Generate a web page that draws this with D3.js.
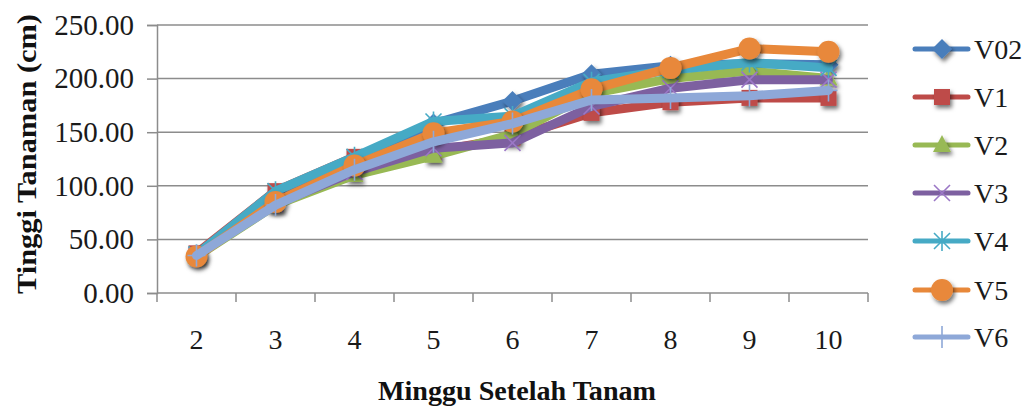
<!DOCTYPE html>
<html>
<head>
<meta charset="utf-8">
<script src="https://cdn.jsdelivr.net/npm/d3@7"></script>
<style>
  html, body { margin: 0; padding: 0; background: #fff; }
  svg { display: block; }
</style>
</head>
<body>
<svg id="chart" width="1024" height="407" font-family="Liberation Serif"></svg>
<script>
// Weeks after planting
const weeks = ["2", "3", "4", "5", "6", "7", "8", "9", "10"];

// Plant height (cm) per treatment
const V02 = [35, 91, 125, 158, 179, 204, 212, 214, 213];
const V1  = [37, 95, 127, 132, 145, 168, 178, 182, 182];
const V2  = [34, 82, 110, 128, 148, 186, 200, 207, 200];
const V3  = [35, 83, 113, 135, 140, 174, 191, 199, 199];
const V4  = [36, 95, 127, 160, 165, 197, 208, 215, 210];
const V5  = [34, 85, 119, 149, 160, 190, 210, 228, 225];
const V6  = [35, 82, 115, 141, 158, 180, 182, 184, 189];

const seriesNames = ["V02", "V1", "V2", "V3", "V4", "V5", "V6"];
const yTicks = [0, 50, 100, 150, 200, 250];

const yTitle = "Tinggi Tanaman (cm)";
const xTitle = "Minggu Setelah Tanam";

const FONT = "Liberation Serif";

const series = [
  { name: "V02", values: V02, color: "#4a7ebb", marker: "diamond" },
  { name: "V1",  values: V1,  color: "#be4b48", marker: "square" },
  { name: "V2",  values: V2,  color: "#98b954", marker: "triangle" },
  { name: "V3",  values: V3,  color: "#7d60a0", marker: "x" },
  { name: "V4",  values: V4,  color: "#46aac5", marker: "star" },
  { name: "V5",  values: V5,  color: "#e8883a", marker: "circle" },
  { name: "V6",  values: V6,  color: "#8ea8d8", marker: "plus" }
];

const svg = d3.select("#chart");
const plot = { left: 157, right: 868, top: 25, bottom: 293 };

const x = d3.scaleBand().domain(weeks).range([plot.left, plot.right]).padding(0);
const y = d3.scaleLinear().domain([0, 250]).range([plot.bottom, plot.top]);
const cx = d => x(d) + x.bandwidth() / 2;

// Marker shadow
const defs = svg.append("defs");
const f = defs.append("filter").attr("id", "shadow")
  .attr("x", "-50%").attr("y", "-50%").attr("width", "200%").attr("height", "200%");
f.append("feDropShadow").attr("dx", 2).attr("dy", 3).attr("stdDeviation", 2)
  .attr("flood-color", "#000").attr("flood-opacity", 0.55);

// Gridlines
svg.append("g")
  .selectAll("line").data(yTicks.slice(1)).join("line")
  .attr("x1", plot.left).attr("x2", plot.right)
  .attr("y1", d => y(d)).attr("y2", d => y(d))
  .attr("stroke", "#8c8c8c").attr("stroke-width", 1.5);

// Y axis
const yAxis = svg.append("g").attr("transform", `translate(${plot.left},0)`)
  .call(d3.axisLeft(y).tickValues(yTicks).tickFormat(d3.format(".2f")).tickSize(10).tickPadding(13));
yAxis.attr("font-family", FONT).attr("font-size", 29);
yAxis.select(".domain").attr("stroke", "#8c8c8c").attr("stroke-width", 1.5);
yAxis.selectAll(".tick line").attr("stroke", "#8c8c8c").attr("stroke-width", 1.5);
yAxis.selectAll(".tick text")
  .attr("font-family", FONT).attr("font-size", 29).attr("fill", "#1a1a1a");

// X axis: baseline, boundary ticks and centred labels
const xg = svg.append("g");
xg.append("line")
  .attr("x1", plot.left).attr("x2", plot.right)
  .attr("y1", plot.bottom).attr("y2", plot.bottom)
  .attr("stroke", "#8c8c8c").attr("stroke-width", 1.5);
const bounds = weeks.map(w => x(w)).concat([x(weeks[weeks.length - 1]) + x.bandwidth()]);
xg.selectAll("line.tick").data(bounds).join("line").attr("class", "tick")
  .attr("x1", d => d).attr("x2", d => d)
  .attr("y1", plot.bottom).attr("y2", plot.bottom + 9)
  .attr("stroke", "#8c8c8c").attr("stroke-width", 1.5);
xg.selectAll("text").data(weeks).join("text")
  .attr("x", d => cx(d)).attr("y", 349)
  .attr("text-anchor", "middle").attr("fill", "#1a1a1a")
  .attr("font-family", FONT).attr("font-size", 28)
  .text(d => d);

// Axis titles
svg.append("text")
  .attr("transform", "translate(36,154) rotate(-90)")
  .attr("text-anchor", "middle").attr("fill", "#111")
  .attr("font-family", FONT).attr("font-size", 27).attr("font-weight", "bold")
  .attr("textLength", 280).attr("lengthAdjust", "spacingAndGlyphs")
  .text(yTitle);
svg.append("text")
  .attr("x", 517).attr("y", 400)
  .attr("text-anchor", "middle").attr("fill", "#111")
  .attr("font-family", FONT).attr("font-size", 27).attr("font-weight", "bold")
  .attr("textLength", 278).attr("lengthAdjust", "spacingAndGlyphs")
  .text(xTitle);

// Marker drawing
function drawMarker(g, type, color, px, py) {
  const m = g.append("g").attr("transform", `translate(${px},${py})`);
  switch (type) {
    case "diamond":
      m.append("path").attr("d", "M0,-10L10,0L0,10L-10,0Z").attr("fill", color)
        .attr("filter", "url(#shadow)");
      break;
    case "square":
      m.append("rect").attr("x", -8).attr("y", -8).attr("width", 16).attr("height", 16)
        .attr("fill", color).attr("filter", "url(#shadow)");
      break;
    case "triangle":
      m.append("path").attr("d", "M0,-10L9,7L-9,7Z").attr("fill", color)
        .attr("filter", "url(#shadow)");
      break;
    case "x":
      m.append("path").attr("d", "M-8,-8L8,8M-8,8L8,-8")
        .attr("stroke", d3.color(color).brighter(0.6)).attr("stroke-width", 1.6).attr("fill", "none");
      break;
    case "star":
      m.append("path").attr("d", "M-8,-8L8,8M-8,8L8,-8M0,-10L0,10")
        .attr("stroke", color).attr("stroke-width", 1.6).attr("fill", "none");
      break;
    case "circle":
      m.append("circle").attr("r", 11).attr("fill", color).attr("filter", "url(#shadow)");
      break;
    case "plus":
      m.append("path").attr("d", "M0,-11L0,11M-9,0L9,0")
        .attr("stroke", color).attr("stroke-width", 1.6).attr("fill", "none");
      break;
  }
}

const line = d3.line().x((d, i) => cx(weeks[i])).y(d => y(d));

series.forEach(s => {
  const g = svg.append("g").attr("class", "series");
  g.append("path").datum(s.values)
    .attr("d", line)
    .attr("fill", "none").attr("stroke", s.color)
    .attr("stroke-width", 9).attr("stroke-linejoin", "round").attr("stroke-linecap", "round");
  s.values.forEach((v, i) => drawMarker(g, s.marker, s.color, cx(weeks[i]), y(v)));
});

// Legend
const legendY = [49, 97, 145, 193, 241, 290, 337];
const lg = svg.append("g");
series.forEach((s, i) => {
  const row = lg.append("g");
  row.append("line").attr("x1", 915).attr("x2", 968)
    .attr("y1", legendY[i]).attr("y2", legendY[i])
    .attr("stroke", s.color).attr("stroke-width", 5).attr("stroke-linecap", "round");
  drawMarker(row, s.marker, s.color, 942, legendY[i]);
  row.append("text").attr("x", 974).attr("y", legendY[i] + 10).attr("fill", "#1a1a1a")
    .attr("font-family", FONT).attr("font-size", 28)
    .text(seriesNames[i]);
});
</script>
</body>
</html>
